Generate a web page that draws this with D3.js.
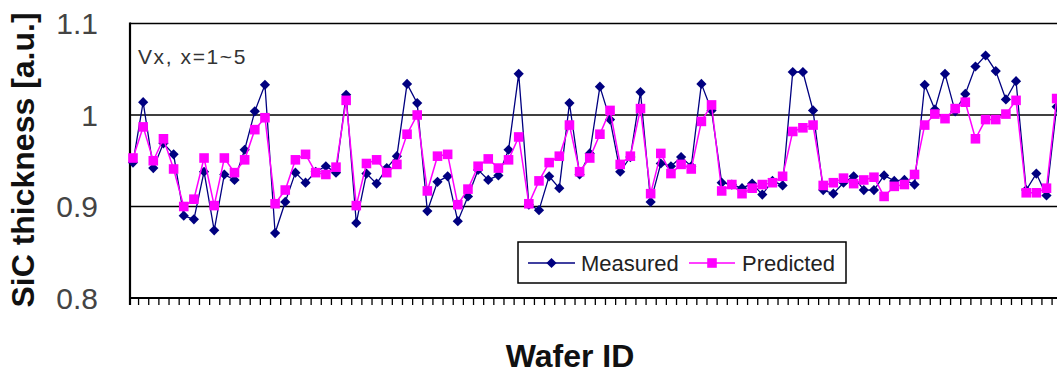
<!DOCTYPE html>
<html>
<head>
<meta charset="utf-8">
<script src="https://cdn.jsdelivr.net/npm/d3@7"></script>
<style>
    body { margin: 0; background: #fff; }
    svg { display: block; font-family: 'Liberation Sans', Arial, sans-serif; }
</style>
</head>
<body>
<div id="chart"></div>
<script>
// ... data

const waferIds = d3.range(1, 93);

const measured = [
    0.948, 1.014, 0.942, 0.969, 0.957, 0.890, 0.886, 0.938, 0.874, 0.935,
    0.929, 0.962, 1.004, 1.033, 0.871, 0.905, 0.937, 0.926, 0.938, 0.944,
    0.937, 1.022, 0.882, 0.936, 0.925, 0.942, 0.955, 1.034, 1.013, 0.895,
    0.927, 0.933, 0.884, 0.911, 0.940, 0.929, 0.934, 0.962, 1.045, 0.902,
    0.896, 0.933, 0.920, 1.013, 0.935, 0.958, 1.031, 0.995, 0.938, 0.954,
    1.025, 0.905, 0.947, 0.944, 0.954, 0.944, 1.034, 1.005, 0.926, 0.924,
    0.920, 0.925, 0.913, 0.928, 0.923, 1.047, 1.047, 1.005, 0.918, 0.914,
    0.926, 0.933, 0.918, 0.918, 0.934, 0.928, 0.929, 0.924, 1.033, 1.006,
    1.045, 1.004, 1.023, 1.053, 1.065, 1.048, 1.017, 1.037, 0.918, 0.936,
    0.912, 1.009
];

const predicted = [
    0.953, 0.987, 0.950, 0.974, 0.941, 0.900, 0.908, 0.953, 0.901, 0.953,
    0.937, 0.951, 0.984, 0.997, 0.903, 0.918, 0.951, 0.957, 0.937, 0.935,
    0.943, 1.016, 0.901, 0.947, 0.951, 0.937, 0.946, 0.979, 1.000, 0.917,
    0.955, 0.957, 0.902, 0.919, 0.944, 0.952, 0.942, 0.951, 0.976, 0.903,
    0.928, 0.948, 0.955, 0.989, 0.938, 0.953, 0.979, 1.005, 0.946, 0.955,
    1.007, 0.914, 0.958, 0.936, 0.946, 0.941, 0.993, 1.011, 0.917, 0.924,
    0.914, 0.920, 0.924, 0.926, 0.933, 0.982, 0.986, 0.989, 0.923, 0.926,
    0.931, 0.925, 0.929, 0.932, 0.911, 0.922, 0.924, 0.935, 0.989, 1.001,
    0.996, 1.007, 1.014, 0.974, 0.995, 0.995, 1.001, 1.016, 0.915, 0.915,
    0.920, 1.018
];

const yTicks = [0.8, 0.9, 1.0, 1.1];
const yTickLabels = ['0.8', '0.9', '1', '1.1'];
const gridValues = [0.9, 1.0, 1.1];

const seriesNames = ['Measured', 'Predicted'];
const annotation = 'Vx, x=1~5';

// ... layout

const W = 1057, H = 375;
const plotLeft = 130, plotRight = 1075, plotTop = 23.5, plotBottom = 298;
const step = 10.15;

const x = d3.scaleLinear()
    .domain([0, waferIds.length - 1])
    .range([133, 133 + step * (waferIds.length - 1)]);

const y = d3.scaleLinear()
    .domain([0.8, 1.1])
    .range([plotBottom, plotTop]);

const svg = d3.select('#chart').append('svg')
    .attr('width', W)
    .attr('height', H);

// ... grid lines

svg.append('g')
    .selectAll('line')
    .data(gridValues)
    .join('line')
    .attr('x1', plotLeft)
    .attr('x2', plotRight)
    .attr('y1', d => y(d))
    .attr('y2', d => y(d))
    .attr('stroke', '#000')
    .attr('stroke-width', 1.5);

// ... x axis (ticks between categories, no labels)

const xAxis = d3.axisBottom(x)
    .tickValues(d3.range(0, waferIds.length).map(i => i + 0.5))
    .tickSize(7)
    .tickFormat('');

svg.append('g')
    .attr('transform', 'translate(0,' + plotBottom + ')')
    .call(xAxis)
    .call(g => g.select('.domain').remove())
    .call(g => g.selectAll('line').attr('stroke', '#000').attr('stroke-width', 1.3));

svg.append('line')
    .attr('x1', plotLeft - 1)
    .attr('x2', plotRight)
    .attr('y1', plotBottom)
    .attr('y2', plotBottom)
    .attr('stroke', '#000')
    .attr('stroke-width', 2.2);

svg.append('line')
    .attr('x1', plotLeft)
    .attr('x2', plotLeft)
    .attr('y1', plotTop - 1)
    .attr('y2', plotBottom + 7)
    .attr('stroke', '#000')
    .attr('stroke-width', 2.2);

// ... y tick labels

svg.append('g')
    .selectAll('text')
    .data(yTicks)
    .join('text')
    .attr('x', 98)
    .attr('y', d => y(d))
    .attr('dy', '0.36em')
    .attr('text-anchor', 'end')
    .attr('font-size', 30)
    .attr('fill', '#444')
    .text((d, i) => yTickLabels[i]);

// ... axis titles

svg.append('text')
    .attr('transform', 'translate(34,160) rotate(-90)')
    .attr('text-anchor', 'middle')
    .attr('font-size', 32)
    .attr('font-weight', 'bold')
    .attr('fill', '#111')
    .text('SiC thickness [a.u.]');

svg.append('text')
    .attr('x', 570)
    .attr('y', 367)
    .attr('text-anchor', 'middle')
    .attr('font-size', 32)
    .attr('font-weight', 'bold')
    .attr('fill', '#111')
    .text('Wafer ID');

svg.append('text')
    .attr('x', 138)
    .attr('y', 64)
    .attr('font-size', 21)
    .attr('letter-spacing', 1.6)
    .attr('fill', '#333')
    .text(annotation);

// ... series

const diamond = d3.symbol().type(d3.symbolSquare).size(52);
const square = d3.symbol().type(d3.symbolSquare).size(92);

const line = d3.line()
    .x((d, i) => x(i))
    .y(d => y(d));

svg.append('path')
    .datum(measured)
    .attr('fill', 'none')
    .attr('stroke', '#000080')
    .attr('stroke-width', 1.3)
    .attr('d', line);

svg.append('g')
    .selectAll('path')
    .data(measured)
    .join('path')
    .attr('transform', (d, i) => 'translate(' + x(i) + ',' + y(d) + ') rotate(45)')
    .attr('d', diamond)
    .attr('fill', '#000080');

svg.append('path')
    .datum(predicted)
    .attr('fill', 'none')
    .attr('stroke', '#ff00ff')
    .attr('stroke-width', 1.5)
    .attr('d', line);

svg.append('g')
    .selectAll('path')
    .data(predicted)
    .join('path')
    .attr('transform', (d, i) => 'translate(' + x(i) + ',' + y(d) + ')')
    .attr('d', square)
    .attr('fill', '#ff00ff');

// ... legend

const legend = svg.append('g');

legend.append('rect')
    .attr('x', 518)
    .attr('y', 242)
    .attr('width', 328)
    .attr('height', 41)
    .attr('fill', '#fff')
    .attr('stroke', '#000')
    .attr('stroke-width', 1.5);

const legendItems = [
    { name: seriesNames[0], x0: 528, x1: 575, color: '#000080', sym: diamond, rot: 45, tx: 581 },
    { name: seriesNames[1], x0: 689, x1: 735, color: '#ff00ff', sym: square, rot: 0, tx: 742 }
];

legendItems.forEach(d => {
    legend.append('line')
        .attr('x1', d.x0)
        .attr('x2', d.x1)
        .attr('y1', 263)
        .attr('y2', 263)
        .attr('stroke', d.color)
        .attr('stroke-width', 1.5);
    legend.append('path')
        .attr('transform', 'translate(' + ((d.x0 + d.x1) / 2) + ',263) rotate(' + d.rot + ')')
        .attr('d', d.sym)
        .attr('fill', d.color);
    legend.append('text')
        .attr('x', d.tx)
        .attr('y', 271)
        .attr('font-size', 22)
        .attr('fill', '#222')
        .text(d.name);
});
</script>
</body>
</html>
